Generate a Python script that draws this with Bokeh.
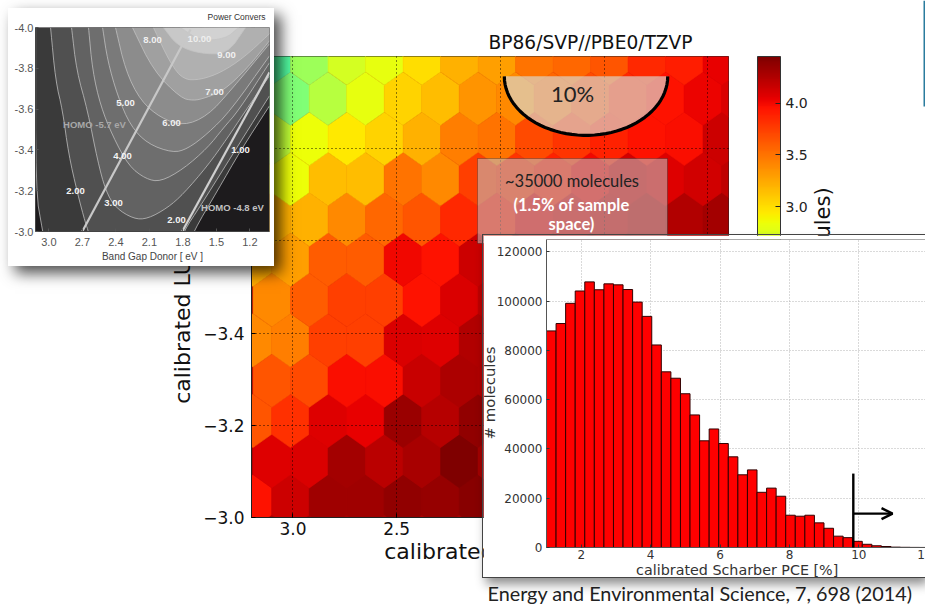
from bokeh.core.properties import value
from bokeh.embed import file_html
from bokeh.resources import INLINE
from bokeh.plotting import figure
from bokeh.models import (Arrow, BoxAnnotation, ColorBar, ColumnDataSource, FixedTicker, Label,
                          LinearColorMapper, NumeralTickFormatter, OpenHead, Range1d, Span)
import math

# ---- main hexbin: mean values per hexagon, bottom row first
ROW_00 = [3.95, 4.15, 4.32, 4.32, 4.38, 4.35, 4.40]
ROW_01 = [4.08, 4.10, 4.30, 4.22, 4.28, 4.45, 4.30]
ROW_02 = [3.65, 3.82, 4.08, 4.05, 4.33, 4.23, 4.38]
ROW_03 = [3.65, 3.70, 3.98, 3.98, 4.17, 4.27, 4.25]
ROW_04 = [3.40, 3.45, 3.75, 3.75, 4.10, 4.08, 4.25]
ROW_05 = [3.40, 3.60, 3.75, 3.75, 3.95, 4.10, 4.20]
ROW_06 = [3.25, 3.30, 3.60, 3.60, 4.00, 3.95, 4.15]
ROW_07 = [3.20, 3.20, 3.40, 3.55, 3.65, 3.85, 3.90, 4.05, 4.10, 4.15, 4.20, 4.25, 4.30]
ROW_08 = [2.85, 2.85, 3.15, 3.15, 3.50, 3.40, 3.75, 3.80, 3.88, 4.00, 4.12, 4.08, 4.12, 4.20]
ROW_09 = [2.60, 2.85, 2.95, 3.05, 3.20, 3.45, 3.50, 3.70, 3.80, 3.88, 3.95, 3.98, 4.15]
ROW_10 = [2.20, 2.25, 2.55, 2.80, 3.05, 3.15, 3.35, 3.40, 3.55, 3.70, 3.85, 3.95, 4.02, 4.10]
ROW_11 = [2.00, 2.40, 2.70, 2.80, 3.00, 3.20, 3.30, 3.50, 3.55, 3.65, 3.85, 3.90, 4.05]
HEX_ROWS = [ROW_00, ROW_01, ROW_02, ROW_03, ROW_04, ROW_05, ROW_06, ROW_07, ROW_08, ROW_09, ROW_10, ROW_11]
MAIN_X_TICKS = [3.0, 2.5, 2.0, 1.5, 1.0]
MAIN_Y_TICKS = [-3.0, -3.2, -3.4, -3.6, -3.8, -4.0]
CBAR_TICKS = [0.0, 0.5, 1.0, 1.5, 2.0, 2.5, 3.0, 3.5, 4.0]

# ---- histogram
HIST_COUNTS = [87900, 90900, 99100, 104100, 107800, 104600, 107000, 106600, 104700, 99600,
               93800, 82200, 71300, 68700, 62400, 53800, 43300, 48100, 42200, 36800,
               29500, 31500, 22400, 24100, 20800, 13100, 12700, 13100, 10000, 7800,
               4600, 4000, 2500, 1300, 700, 400, 150, 80, 40, 20]
HIST_FIRST_EDGE = 1.0
HIST_BIN_WIDTH = 0.2757
HIST_THRESHOLD = 9.84
HIST_X_TICKS = [2, 4, 6, 8, 10]
HIST_Y_TICKS = [0, 20000, 40000, 60000, 80000, 100000, 120000]

# ---- Scharber contour inset: gap, LUMO of each iso-efficiency curve
L1_X = [3.119, 3.119, 3.056, 3.02, 1.77, 1.705, 1.49, 1.284, 1.024]
L1_Y = [-3.999, -3.2, -3.0, -2.9, -2.9, -3.0, -3.2, -3.396, -3.616]
L2_X = [2.985, 2.94, 2.877, 2.824, 2.743, 2.671, 2.645, 2.62, 1.85, 1.794, 1.642, 1.418, 1.194, 1.024]
L2_Y = [-3.999, -3.739, -3.592, -3.381, -3.185, -3.038, -3.0, -2.9, -2.9, -3.0, -3.126, -3.322, -3.518, -3.665]
L3_X = [2.797, 2.752, 2.653, 2.564, 2.492, 2.403, 2.242, 2.116, 1.937, 1.794, 1.579, 1.40, 1.257, 1.024]
L3_Y = [-3.999, -3.788, -3.592, -3.347, -3.2, -3.116, -3.062, -3.062, -3.116, -3.185, -3.322, -3.459, -3.577, -3.763]
L4_X = [2.645, 2.609, 2.537, 2.43, 2.286, 2.134, 2.0, 1.794, 1.579, 1.436, 1.302, 1.024]
L4_Y = [-3.999, -3.788, -3.616, -3.469, -3.322, -3.258, -3.244, -3.307, -3.41, -3.508, -3.592, -3.827]
L5_X = [2.519, 2.474, 2.385, 2.269, 2.116, 1.892, 1.758, 1.579, 1.373, 1.024]
L5_Y = [-3.999, -3.837, -3.665, -3.518, -3.43, -3.386, -3.405, -3.479, -3.592, -3.861]
L6_X = [2.403, 2.313, 2.179, 2.0, 1.794, 1.579, 1.373, 1.024]
L6_Y = [-3.999, -3.788, -3.641, -3.557, -3.518, -3.567, -3.69, -3.92]
L7_X = [2.251, 2.063, 1.821, 1.705, 1.597, 1.436, 1.221, 1.024]
L7_Y = [-3.999, -3.788, -3.655, -3.641, -3.655, -3.69, -3.802, -3.935]
L8_X = [2.063, 1.91, 1.794, 1.642, 1.463, 1.257, 1.024]
L8_Y = [-3.999, -3.822, -3.744, -3.744, -3.778, -3.851, -3.969]
L9_X = [1.973, 1.848, 1.642, 1.40, 1.239]
L9_Y = [-3.999, -3.91, -3.871, -3.871, -3.999]
L10_X = [1.821, 1.642, 1.418, 1.302]
L10_Y = [-3.999, -3.935, -3.945, -3.999]
CURVES_X = [L1_X, L2_X, L3_X, L4_X, L5_X, L6_X, L7_X, L8_X, L9_X, L10_X]
CURVES_Y = [L1_Y, L2_Y, L3_Y, L4_Y, L5_Y, L6_Y, L7_Y, L8_Y, L9_Y, L10_Y]
BAND_COLORS = ["#3a3a3a", "#505050", "#626262", "#6e6e6e", "#7a7a7a", "#8c8c8c", "#a0a0a0", "#b0b0b0", "#c8c8c8", "#d2d2d2"]
HOMO_57_X, HOMO_57_Y = [2.701, 1.731], [-3.0, -3.99]
HOMO_48_X, HOMO_48_Y = [1.806, 1.024], [-3.0, -3.78]
INSET_X_TICKS = [3.0, 2.7, 2.4, 2.1, 1.8, 1.5, 1.2]
INSET_Y_TICKS = [-4.0, -3.8, -3.6, -3.4, -3.2, -3.0]


def lerp(knots, t):
    for (a, va), (b, vb) in zip(knots, knots[1:]):
        if t <= b:
            return va + (vb - va) * (t - a) / (b - a)
    return knots[-1][1]


def jet():
    R = [(0, 0), (.35, 0), (.66, 1), (.89, 1), (1, .5)]
    G = [(0, 0), (.125, 0), (.375, 1), (.64, 1), (.91, 0), (1, 0)]
    B = [(0, .5), (.11, 1), (.34, 1), (.65, 0), (1, 0)]
    return ["#%02x%02x%02x" % tuple(int(lerp(k, i / 255) * 255) for k in (R, G, B)) for i in range(256)]


def rounded(xv, yv, passes=2):
    """Corner-cutting so that the drawn contours are smooth, ends kept."""
    pts = list(zip(xv, yv))
    for _ in range(passes):
        out = [pts[0]]
        for (ax_, ay_), (bx_, by_) in zip(pts, pts[1:]):
            out.append((.75 * ax_ + .25 * bx_, .75 * ay_ + .25 * by_))
            out.append((.25 * ax_ + .75 * bx_, .25 * ay_ + .75 * by_))
        out.append(pts[-1])
        pts = out
    return [p_[0] for p_ in pts], [p_[1] for p_ in pts]


def canvas_label(p, text, x, y, size, color="black", font="DejaVu Sans", style="normal", align="center", angle=0):
    p.add_layout(Label(x=x, y=y, x_units="canvas", y_units="canvas", text=text, text_font=font,
                       text_font_size=f"{size}px", text_color=color, text_font_style=style,
                       text_align=align, text_baseline="middle", angle=angle))


def page_layer(z):
    """Transparent sheet over the whole page, one unit per pixel, for free-standing text."""
    f = figure(width=925, height=605, x_range=Range1d(0, 925), y_range=Range1d(605, 0),
               output_backend="svg", toolbar_location=None, x_axis_location=None, y_axis_location=None,
               min_border=0, min_border_left=0, min_border_right=0, min_border_top=0, min_border_bottom=0,
               styles={"position": "absolute", "left": "0px", "top": "0px", "z-index": z, "pointer-events": "none"})
    f.background_fill_color = None
    f.border_fill_color = None
    f.outline_line_color = None
    f.grid.visible = False
    return f


def page_text(f, text, x, y, size, color="black", font="DejaVu Sans", style="normal", align="center", angle=0):
    f.text(x=[x], y=[y], text=[text], text_font=value(font), text_font_size=value(f"{size}px"),
           text_color=color, text_font_style=style, text_align=align, text_baseline="middle", angle=angle)


# ================= main figure =================
main = figure(width=925, height=605, x_range=Range1d(3.2, 0.9), y_range=Range1d(-3.0, -4.0),
              output_backend="svg", toolbar_location=None, min_border_left=251, min_border_right=197,
              min_border_top=56, min_border_bottom=88,
              styles={"position": "absolute", "left": "0px", "top": "0px", "z-index": "1"})
main.background_fill_color = "#aa0000"
main.outline_line_color = "#222222"

HW, HH, STEP_X, STEP_Y = 0.0904, 0.0579, 0.1808, 0.0874
xs, ys, zs = [], [], []
for i, row in enumerate(HEX_ROWS):
    x0 = 3.193 if i % 2 == 0 else 3.102
    for k, z in enumerate(row):
        cx, cy = x0 - STEP_X * k, -3.0347 - STEP_Y * i
        xs.append([cx, cx + HW, cx + HW, cx, cx - HW, cx - HW])
        ys.append([cy - HH, cy - HH / 2, cy + HH / 2, cy + HH, cy + HH / 2, cy - HH / 2])
        zs.append(z)
mapper = LinearColorMapper(palette=jet(), low=0.0, high=4.45)
main.patches("xs", "ys", source=ColumnDataSource(dict(xs=xs, ys=ys, z=zs)),
             fill_color={"field": "z", "transform": mapper},
             line_color={"field": "z", "transform": mapper}, line_width=0.6)

main.xaxis.ticker = FixedTicker(ticks=MAIN_X_TICKS)
main.yaxis.ticker = FixedTicker(ticks=MAIN_Y_TICKS)
main.yaxis.major_label_overrides = {v: f"\u2212{abs(v):.1f}" for v in MAIN_Y_TICKS}
main.xaxis.formatter = NumeralTickFormatter(format="0.0")
for ax in (main.xaxis[0], main.yaxis[0]):
    ax.major_tick_in = 4
    ax.major_tick_out = 0
    ax.minor_tick_line_color = None
    ax.major_label_text_font = "DejaVu Sans"
    ax.major_label_text_font_size = "17px"
    ax.major_label_text_color = "#111111"
    ax.axis_label_text_font = "DejaVu Sans"
    ax.axis_label_text_font_size = "22px"
    ax.axis_label_text_font_style = "normal"
    ax.axis_label_text_color = "#111111"
    ax.axis_line_color = "#222222"
main.xaxis.axis_label = "calibrated gap [eV]"
main.yaxis.axis_label = "calibrated LUMO [eV]"
main.xaxis.major_label_standoff = 4
main.yaxis.major_label_standoff = 7
main.xaxis.axis_label_standoff = 1
main.yaxis.axis_label_standoff = 5
main.grid.grid_line_color = "black"
main.grid.grid_line_dash = "1 3"
main.grid.grid_line_alpha = 0.9
main.grid.level = "guide"

# 10 % half-ellipse, outlined
ELL_X, ELL_Y = [], []
for a in range(0, 181, 4):
    ELL_X.append(1.587 + 0.394 * math.cos(math.radians(a)))
    ELL_Y.append(-3.957 + 0.128 * math.sin(math.radians(a)))
r = main.patch(ELL_X, ELL_Y, fill_color="#d8d8d0", fill_alpha=0.68, line_color=None)
r.level = "annotation"
r = main.line(ELL_X, ELL_Y, line_color="black", line_width=3.2)
r.level = "annotation"
main.add_layout(BoxAnnotation(left=477, right=667, top=158, bottom=243, left_units="canvas", right_units="canvas",
                              top_units="canvas", bottom_units="canvas", fill_color="#bdbdbd", fill_alpha=0.58,
                              line_color="#111111", line_width=1, level="annotation"))
canvas_label(main, "10%", 572, 92.5, 22, "#222222", "Lato")
canvas_label(main, "~35000 molecules", 571.5, 180.5, 16.5, "#222222", "Lato")
canvas_label(main, "(1.5% of sample", 571, 204, 16.5, "white", "Lato", "bold")
canvas_label(main, "space)", 571, 223, 16.5, "white", "Lato", "bold")
cbar = ColorBar(color_mapper=mapper, location=(506, 0), width=23, height=461, padding=0, margin=0,
                ticker=FixedTicker(ticks=CBAR_TICKS), formatter=NumeralTickFormatter(format="0.0"),
                major_label_text_font="DejaVu Sans", major_label_text_font_size="14px",
                major_label_text_color="#222222", major_tick_line_color="#222222", major_tick_in=5,
                minor_tick_line_color=None, bar_line_color="#333333", label_standoff=5,
                background_fill_color=None)
main.add_layout(cbar, "center")

# ---- free-standing text under the insets
under = page_layer("2")
page_text(under, "BP86/SVP//PBE0/TZVP", 590, 42, 18.6, "#111111")
page_text(under, "log10(#molecules)", 822, 286.5, 21, "#111111", angle=math.pi / 2)
page_text(under, "Energy and Environmental Science,  7, 698 (2014)", 487, 592.5, 19.8, "#222222", "Lato", align="left")
under.quad(left=[923], right=[925], top=[0], bottom=[106], fill_color="#2b7c9e", line_color=None)

# ================= grey contour inset =================
inset = figure(width=266, height=258, x_range=Range1d(3.12, 1.024), y_range=Range1d(-3.0, -4.0),
               output_backend="svg", toolbar_location=None, min_border_left=27, min_border_right=5,
               min_border_top=19, min_border_bottom=35,
               styles={"position": "absolute", "left": "8px", "top": "8px", "z-index": "4",
                       "box-shadow": "7px 7px 14px rgba(0,0,0,.7)"})
inset.background_fill_color = "#1d1b1d"
inset.outline_line_color = None
inset.grid.visible = False
for cx_, cy_, col in zip(CURVES_X, CURVES_Y, BAND_COLORS):
    sx_, sy_ = rounded(cx_, cy_)
    inset.patch(sx_ + [1.024], sy_ + [-4.0], fill_color=col, line_color=None)
for cx_, cy_ in zip(CURVES_X, CURVES_Y):
    sx_, sy_ = rounded(cx_, cy_)
    inset.line(sx_, sy_, line_color="#c4c4c4", line_width=1, line_alpha=0.75)
inset.line(HOMO_57_X, HOMO_57_Y, line_color="#c8c8c8", line_width=2.2)
inset.line(HOMO_48_X, HOMO_48_Y, line_color="#cfcfcf", line_width=2.2)
inset.xaxis.ticker = FixedTicker(ticks=INSET_X_TICKS)
inset.yaxis.ticker = FixedTicker(ticks=INSET_Y_TICKS)
inset.xaxis.formatter = NumeralTickFormatter(format="0.0")
inset.yaxis.formatter = NumeralTickFormatter(format="0.0")
inset.xaxis.axis_label = "Band Gap Donor [ eV ]"
inset.xaxis.axis_label_standoff = 2
inset.xaxis.axis_label_text_font = "Liberation Sans"
inset.xaxis.axis_label_text_font_size = "10px"
inset.xaxis.axis_label_text_font_style = "normal"
inset.xaxis.axis_label_text_color = "#444444"
for ax in (inset.xaxis[0], inset.yaxis[0]):
    ax.major_tick_in = 3
    ax.major_tick_out = 0
    ax.minor_tick_line_color = None
    ax.major_tick_line_color = "#555555"
    ax.axis_line_color = "#444444"
    ax.major_label_text_font = "Liberation Sans"
    ax.major_label_text_font_size = "11px"
    ax.major_label_text_color = "#555555"
inset.xaxis.major_label_standoff = 6
inset.yaxis.major_label_standoff = 2
for txt, x_, y_, col in [("8.00", 144, 31, "#f0f0f0"), ("10.00", 191, 30, "#eeeeee"), ("9.00", 218, 46, "#f0f0f0"),
                         ("7.00", 206, 83, "#f0f0f0"), ("6.00", 163, 114.5, "#f0f0f0"), ("5.00", 117, 94, "#f4f4f4"),
                         ("4.00", 114, 147, "#f4f4f4"), ("3.00", 105, 194, "#f4f4f4"), ("2.00", 67, 182, "#f4f4f4"),
                         ("2.00", 168, 211, "#f4f4f4"), ("1.00", 232, 141, "#f4f4f4"),
                         ("HOMO -5.7 eV", 86, 116, "#a8a8a8"), ("HOMO -4.8 eV", 224, 199, "#c0c0c0")]:
    canvas_label(inset, txt, x_, y_, 9.5, col, "Liberation Sans", "bold")

# ================= histogram inset =================
hist = figure(width=442, height=342, x_range=Range1d(1.0, 11.92), y_range=Range1d(0, 125000),
              output_backend="svg", toolbar_location=None, min_border_left=63, min_border_right=0,
              min_border_top=4, min_border_bottom=30,
              styles={"position": "absolute", "left": "483px", "top": "235px", "z-index": "3",
                      "box-shadow": "0 0 0 1px #444444, 3px 7px 10px rgba(0,0,0,.45)"})
hist.outline_line_color = None
centers = [HIST_FIRST_EDGE + HIST_BIN_WIDTH * (i + 0.5) for i in range(len(HIST_COUNTS))]
hist.vbar(x=centers, width=HIST_BIN_WIDTH, top=HIST_COUNTS, bottom=0, fill_color="#ff0000", line_color="#330000", line_width=1)
hist.xaxis.ticker = FixedTicker(ticks=HIST_X_TICKS)
hist.yaxis.ticker = FixedTicker(ticks=HIST_Y_TICKS)
hist.yaxis.formatter = NumeralTickFormatter(format="0")
hist.grid.grid_line_color = "#b4b4b4"
hist.grid.grid_line_dash = "1 2"
for ax in (hist.xaxis[0], hist.yaxis[0]):
    ax.major_tick_in = 3
    ax.major_tick_out = 0
    ax.minor_tick_line_color = None
    ax.axis_line_color = "#555555"
    ax.major_tick_line_color = "#333333"
    ax.major_label_text_font = "DejaVu Sans"
    ax.major_label_text_font_size = "12px"
    ax.major_label_text_color = "#333333"
hist.xaxis.major_label_standoff = 2
hist.yaxis.major_label_standoff = 4
hist.add_layout(Span(location=125000, dimension="width", line_color="#555555", line_width=1))
hist.add_layout(Arrow(end=None, x_start=HIST_THRESHOLD, x_end=HIST_THRESHOLD, y_start=-2300, y_end=30000,
                      line_color="black", line_width=2.4))
hist.add_layout(Arrow(end=OpenHead(size=11, line_color="black", line_width=2.4), x_start=HIST_THRESHOLD,
                      x_end=10.97, y_start=13750, y_end=13750, line_color="black", line_width=2.4))

# ---- free-standing text over the insets
over = page_layer("5")
page_text(over, "Power Convers", 207, 16, 8.5, "#333333", "Liberation Sans", align="left")
page_text(over, "# molecules", 489.5, 392.5, 14.9, "#333333", angle=math.pi / 2)
page_text(over, "calibrated Scharber PCE [%]", 736.7, 569, 14.3, "#333333")
page_text(over, "1", 920.5, 554, 12, "#333333")

open("out.html", "w").write(file_html([main, under, inset, hist, over], INLINE))
